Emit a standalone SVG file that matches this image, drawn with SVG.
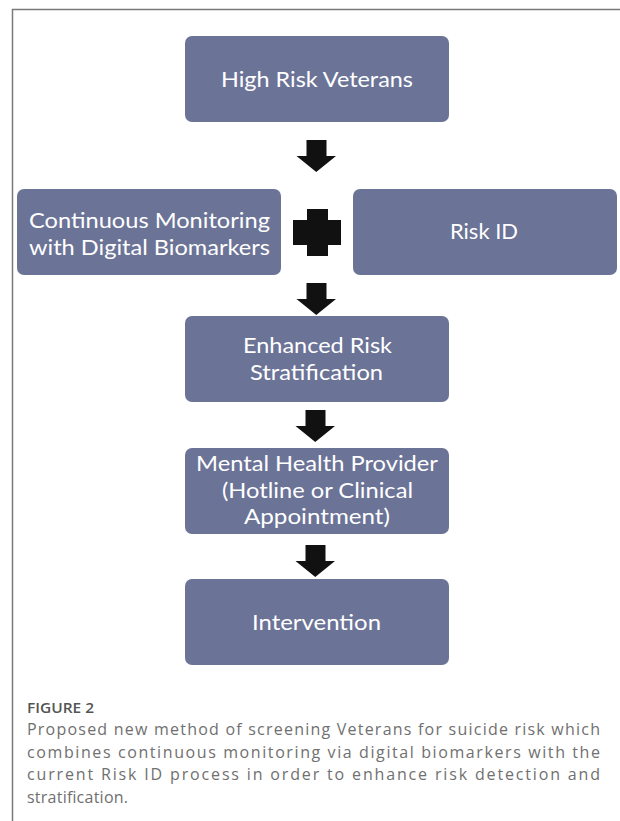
<svg xmlns="http://www.w3.org/2000/svg" xmlns:xlink="http://www.w3.org/1999/xlink" width="620" height="821" viewBox="0 0 620 821">
<style>
.box{fill:#6b7397;}
.lbl{font-family:Lato,"Open Sans",sans-serif;font-size:22px;fill:#ffffff;text-anchor:middle;}
.arr{fill:#111111;}
.cap{font-family:"Open Sans","Liberation Sans",sans-serif;font-size:16px;fill:#707070;}
.fig{font-family:"Open Sans","Liberation Sans",sans-serif;font-size:14px;font-weight:600;fill:#555555;}
</style>
<defs>
<path id="arrow" d="M10,0 H30 V16 H39.5 L19.75,32 L0,16 H10 Z"/>
</defs>
<rect width="620" height="821" fill="#ffffff"/>
<path d="M12.5,821 V9.5 H620" fill="none" stroke="#7a7a7a" stroke-width="1.5"/>

<g id="node-high-risk">
<rect class="box" x="185" y="36" width="264" height="86" rx="7"/>
<text class="lbl" x="317" y="87" textLength="192" lengthAdjust="spacingAndGlyphs">High Risk Veterans</text>
</g>
<g id="node-monitoring">
<rect class="box" x="17" y="189" width="264" height="86" rx="7"/>
<text class="lbl" x="149.5" y="228" textLength="241" lengthAdjust="spacingAndGlyphs">Continuous Monitoring</text>
<text class="lbl" x="149.5" y="255" textLength="241" lengthAdjust="spacingAndGlyphs">with Digital Biomarkers</text>
</g>
<g id="node-risk-id">
<rect class="box" x="353" y="189" width="264" height="86" rx="7"/>
<text class="lbl" x="484" y="239" textLength="68" lengthAdjust="spacingAndGlyphs">Risk ID</text>
</g>
<g id="node-enhanced">
<rect class="box" x="185" y="316" width="264" height="86" rx="7"/>
<text class="lbl" x="317.5" y="353" textLength="149" lengthAdjust="spacingAndGlyphs">Enhanced Risk</text>
<text class="lbl" x="316.5" y="380" textLength="133" lengthAdjust="spacingAndGlyphs">Stratification</text>
</g>
<g id="node-provider">
<rect class="box" x="185" y="448" width="264" height="86" rx="7"/>
<text class="lbl" x="317" y="471" textLength="242" lengthAdjust="spacingAndGlyphs">Mental Health Provider</text>
<text class="lbl" x="317.5" y="498" textLength="191" lengthAdjust="spacingAndGlyphs">(Hotline or Clinical</text>
<text class="lbl" x="317" y="524" textLength="146" lengthAdjust="spacingAndGlyphs">Appointment)</text>
</g>
<g id="node-intervention">
<rect class="box" x="185" y="579" width="264" height="86" rx="7"/>
<text class="lbl" x="316.5" y="630" textLength="129" lengthAdjust="spacingAndGlyphs">Intervention</text>
</g>

<g id="connectors">
<use href="#arrow" xlink:href="#arrow" class="arr" transform="translate(296.5,140)"/>
<path class="arr" d="M307,209 H328 V220 H341 V245 H328 V256 H307 V245 H293 V220 H307 Z"/>
<use href="#arrow" xlink:href="#arrow" class="arr" transform="translate(296.5,283)"/>
<use href="#arrow" xlink:href="#arrow" class="arr" transform="translate(295.5,410)"/>
<use href="#arrow" xlink:href="#arrow" class="arr" transform="translate(295.5,545)"/>
</g>

<g id="caption">
<text class="fig" x="27" y="713" textLength="67" lengthAdjust="spacingAndGlyphs">FIGURE 2</text>
<text class="cap" x="27" y="735" textLength="573">Proposed new method of screening Veterans for suicide risk which</text>
<text class="cap" x="27" y="758" textLength="573">combines continuous monitoring via digital biomarkers with the</text>
<text class="cap" x="27" y="780" textLength="573">current Risk ID process in order to enhance risk detection and</text>
<text class="cap" x="27" y="803" textLength="101">stratification.</text>
</g>
</svg>
